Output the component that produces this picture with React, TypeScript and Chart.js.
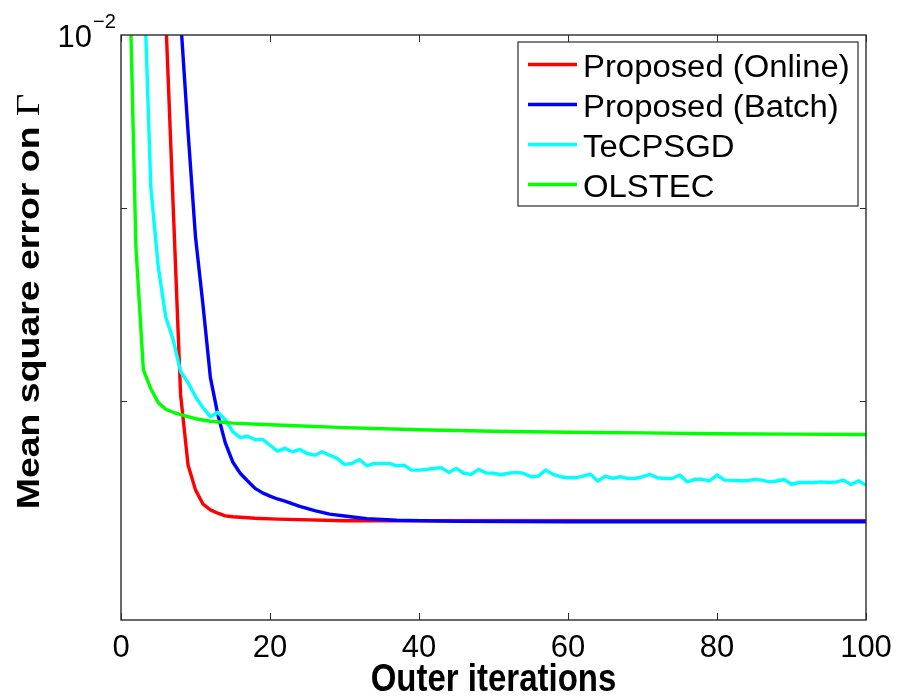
import { useEffect, useRef } from 'react'
import { Chart, registerables } from 'chart.js'

Chart.register(...registerables)

const onlineIters = [6, 7, 8, 9, 10, 11, 12, 13, 14, 15, 16, 18, 21, 30, 100]
const onlineMse = [0.01012, 0.009015, 0.008031, 0.007694, 0.007578, 0.007513, 0.007486, 0.007471, 0.007459, 0.007455, 0.0074525, 0.007448, 0.007444, 0.007437, 0.007437]

const batchIters = [8, 9, 10, 11, 12, 13, 14, 15, 16, 17, 18, 19, 20, 21, 22, 24, 26, 28, 30, 33, 37, 45, 60, 100]
const batchMse = [0.0101, 0.009426, 0.008842, 0.008484, 0.008115, 0.007934, 0.007798, 0.007708, 0.007655, 0.007619, 0.007585, 0.007564, 0.007549, 0.007536, 0.007526, 0.007502, 0.007483, 0.007467, 0.007458, 0.007446, 0.007439, 0.007434, 0.007432, 0.007432]

const olstecIters = [1, 2, 3, 4, 5, 6, 7, 8, 9, 10, 12, 15, 20, 30, 40, 50, 60, 70, 80, 90, 100]
const olstecMse = [0.01069, 0.008789, 0.008154, 0.00806, 0.007992, 0.00796, 0.007945, 0.007934, 0.007924, 0.007914, 0.007902, 0.007893, 0.007885, 0.007871, 0.007861, 0.007854, 0.007849, 0.007846, 0.007842, 0.00784, 0.007838]

// TeCPSGD, one value per iteration from 3 to 100
const tecpsgdMse = [
  0.01047, 0.009115, 0.008682, 0.008422, 0.008305, 0.008144, 0.00809, 0.008021, 0.007967, 0.007924,
  0.007945, 0.007909, 0.007852, 0.007823, 0.00783, 0.007813, 0.007815, 0.007787, 0.007759, 0.007772,
  0.007756, 0.007767, 0.007748, 0.00774, 0.007756, 0.00774, 0.007725, 0.007697, 0.007701, 0.00772,
  0.00769, 0.007701, 0.007701, 0.007701, 0.00769, 0.007693, 0.00767, 0.00767, 0.007673, 0.007678,
  0.007681, 0.007659, 0.007678, 0.007655, 0.00765, 0.007673, 0.007657, 0.007655, 0.007648, 0.007655,
  0.007659, 0.007655, 0.007639, 0.007642, 0.00767, 0.00765, 0.007639, 0.007634, 0.007634, 0.007642,
  0.007651, 0.007619, 0.007642, 0.007631, 0.007639, 0.007631, 0.007631, 0.007639, 0.00765, 0.007634,
  0.007631, 0.007631, 0.007647, 0.007615, 0.007627, 0.007627, 0.00762, 0.007647, 0.007623, 0.007622,
  0.00762, 0.00762, 0.007627, 0.007623, 0.007615, 0.007619, 0.007627, 0.007604, 0.007612, 0.007612,
  0.007612, 0.007615, 0.007612, 0.007615, 0.007623, 0.007603, 0.00762, 0.0076,
]
const tecpsgdIters = tecpsgdMse.map((_, i) => i + 3)

const seriesNames = ['Proposed (Online)', 'Proposed (Batch)', 'TeCPSGD', 'OLSTEC']
const seriesColors = ['#ff0000', '#0000ff', '#00ffff', '#00ff00']

const xTicks = [0, 20, 40, 60, 80, 100]
const yMinorTicks = [0.009, 0.008]

const toPoints = (xs: number[], ys: number[]) => xs.map((x, i) => ({ x, y: ys[i] }))

const SANS = '"Liberation Sans", Arial, sans-serif'

const matlabAxes = {
  id: 'matlabAxes',
  afterDatasetsDraw(chart: any) {
    const { ctx, chartArea: a, scales } = chart
    const xs = scales.x
    const ys = scales.y
    ctx.save()
    ctx.strokeStyle = '#2b2b2b'
    ctx.lineWidth = 1.4
    ctx.strokeRect(a.left, a.top, a.right - a.left, a.bottom - a.top)

    ctx.lineWidth = 1
    ctx.beginPath()
    for (const t of xTicks) {
      const px = Math.round(xs.getPixelForValue(t)) + 0.5
      ctx.moveTo(px, a.bottom)
      ctx.lineTo(px, a.bottom - 7)
      ctx.moveTo(px, a.top)
      ctx.lineTo(px, a.top + 7)
    }
    for (const t of yMinorTicks) {
      const py = Math.round(ys.getPixelForValue(t)) + 0.5
      ctx.moveTo(a.left, py)
      ctx.lineTo(a.left + 6, py)
      ctx.moveTo(a.right, py)
      ctx.lineTo(a.right - 6, py)
    }
    ctx.stroke()

    // tick labels
    ctx.fillStyle = '#000'
    ctx.font = `31px ${SANS}`
    ctx.textAlign = 'center'
    ctx.textBaseline = 'alphabetic'
    for (const t of xTicks) {
      ctx.fillText(String(t), xs.getPixelForValue(t), a.bottom + 37)
    }
    const topY = ys.getPixelForValue(0.01)
    ctx.textAlign = 'right'
    ctx.fillText('10', a.left - 29, topY + 12)
    ctx.textAlign = 'left'
    ctx.font = `20px ${SANS}`
    ctx.fillText('\u22122', a.left - 28, topY - 7)

    // axis titles
    ctx.save()
    ctx.font = `bold 33px ${SANS}`
    ctx.textAlign = 'center'
    ctx.translate((a.left + a.right) / 2, a.bottom + 71)
    ctx.scale(1, 1.17)
    ctx.fillText('Outer iterations', 0, 0)
    ctx.restore()

    ctx.save()
    ctx.translate(38.5, 301.5)
    ctx.rotate(-Math.PI / 2)
    ctx.scale(1.17, 1)
    ctx.textAlign = 'left'
    const bold = `bold 32px ${SANS}`
    const serif = '33px "Liberation Serif", "DejaVu Serif", serif'
    ctx.font = bold
    const w1 = ctx.measureText('Mean square error on ').width
    ctx.font = serif
    const w2 = ctx.measureText('\u0393').width
    const start = -(w1 + w2) / 2
    ctx.font = bold
    ctx.fillText('Mean square error on ', start, 0)
    ctx.font = serif
    ctx.fillText('\u0393', start + w1, 0)
    ctx.restore()

    // legend box inside the axes
    const bw = 340
    const bh = 164
    const bx = a.right - 8 - bw
    const by = a.top + 7
    ctx.fillStyle = '#fff'
    ctx.fillRect(bx, by, bw, bh)
    ctx.strokeStyle = '#2b2b2b'
    ctx.lineWidth = 1.2
    ctx.strokeRect(bx, by, bw, bh)
    seriesNames.forEach((name, i) => {
      const ly = by + 22.5 + i * 40
      ctx.strokeStyle = seriesColors[i]
      ctx.lineWidth = 3.4
      ctx.beginPath()
      ctx.moveTo(bx + 10, ly)
      ctx.lineTo(bx + 59, ly)
      ctx.stroke()
      ctx.save()
      ctx.fillStyle = '#000'
      ctx.font = `31px ${SANS}`
      ctx.textAlign = 'left'
      ctx.translate(bx + 65, ly + 12.5)
      ctx.scale(1.06, 1)
      ctx.fillText(name, 0, 0)
      ctx.restore()
    })
    ctx.restore()
  },
}

export default function App() {
  const canvasRef = useRef<HTMLCanvasElement>(null)

  useEffect(() => {
    if (!canvasRef.current) return

    const allData = [
      toPoints(onlineIters, onlineMse),
      toPoints(batchIters, batchMse),
      toPoints(tecpsgdIters, tecpsgdMse),
      toPoints(olstecIters, olstecMse),
    ]

    const chart = new Chart(canvasRef.current, {
      type: 'line',
      data: {
        datasets: allData.map((data, i) => ({
          label: seriesNames[i],
          data,
          borderColor: seriesColors[i],
          backgroundColor: seriesColors[i],
          borderWidth: 3.4,
          pointRadius: 0,
          tension: 0,
          fill: false,
          clip: 0,
          borderJoinStyle: 'round' as const,
          // later series sit on top, as in the original plot
          order: 3 - i,
        })),
      },
      options: {
        responsive: false,
        animation: false,
        layout: { padding: { top: 35, right: 34, left: 0, bottom: 0 } },
        plugins: {
          legend: { display: false },
          tooltip: { enabled: false },
        },
        scales: {
          x: {
            type: 'linear',
            min: 0,
            max: 100,
            grid: { display: false, drawTicks: false },
            border: { display: false },
            ticks: { display: false },
            afterFit: (s: any) => { s.height = 80 },
          },
          y: {
            type: 'logarithmic',
            min: 0.007,
            max: 0.01,
            grid: { display: false, drawTicks: false },
            border: { display: false },
            ticks: { display: false },
            afterFit: (s: any) => { s.width = 121 },
          },
        },
      },
      plugins: [matlabAxes],
    })

    return () => chart.destroy()
  }, [])

  return (
    <div style={{ position: 'fixed', left: 0, top: 0, width: 900, height: 700, background: '#fff' }}>
      <canvas ref={canvasRef} width={900} height={700} />
    </div>
  )
}
